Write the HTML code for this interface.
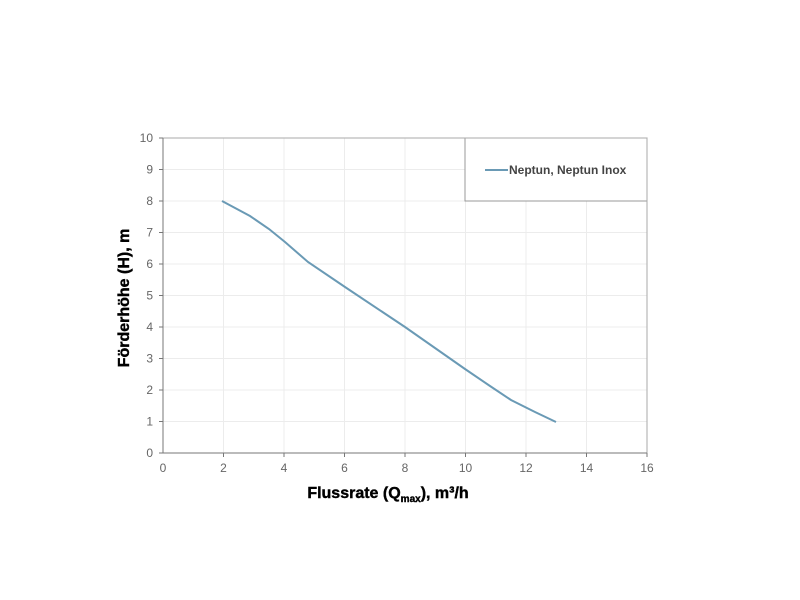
<!DOCTYPE html>
<html><head><style>body{margin:0;background:#fff}svg{display:block}</style></head><body>
<svg width="800" height="600" xmlns="http://www.w3.org/2000/svg" font-family="Liberation Sans, sans-serif">
<g stroke="#ececec" stroke-width="1">
<line x1="223.5" y1="138" x2="223.5" y2="453"/><line x1="284" y1="138" x2="284" y2="453"/><line x1="344.5" y1="138" x2="344.5" y2="453"/><line x1="405" y1="138" x2="405" y2="453"/><line x1="465.5" y1="201" x2="465.5" y2="453"/><line x1="526" y1="201" x2="526" y2="453"/><line x1="586.5" y1="201" x2="586.5" y2="453"/>
<line x1="163" y1="169.5" x2="647" y2="169.5"/><line x1="163" y1="201" x2="647" y2="201"/><line x1="163" y1="232.5" x2="647" y2="232.5"/><line x1="163" y1="264" x2="647" y2="264"/><line x1="163" y1="295.5" x2="647" y2="295.5"/><line x1="163" y1="327" x2="647" y2="327"/><line x1="163" y1="358.5" x2="647" y2="358.5"/><line x1="163" y1="390" x2="647" y2="390"/><line x1="163" y1="421.5" x2="647" y2="421.5"/>
</g>
<rect x="465" y="138" width="182" height="63" fill="#fff" stroke="#999"/>
<line x1="163" y1="138" x2="647" y2="138" stroke="#aaa"/>
<line x1="647" y1="138" x2="647" y2="453" stroke="#aaa"/>
<line x1="163" y1="138" x2="163" y2="453" stroke="#777"/>
<line x1="163" y1="453" x2="647" y2="453" stroke="#777"/>
<g stroke="#777">
<line x1="159" y1="138" x2="163" y2="138"/><line x1="159" y1="169.5" x2="163" y2="169.5"/><line x1="159" y1="201" x2="163" y2="201"/><line x1="159" y1="232.5" x2="163" y2="232.5"/><line x1="159" y1="264" x2="163" y2="264"/><line x1="159" y1="295.5" x2="163" y2="295.5"/><line x1="159" y1="327" x2="163" y2="327"/><line x1="159" y1="358.5" x2="163" y2="358.5"/><line x1="159" y1="390" x2="163" y2="390"/><line x1="159" y1="421.5" x2="163" y2="421.5"/><line x1="159" y1="453" x2="163" y2="453"/>
<line x1="223.5" y1="453" x2="223.5" y2="457"/><line x1="284" y1="453" x2="284" y2="457"/><line x1="344.5" y1="453" x2="344.5" y2="457"/><line x1="405" y1="453" x2="405" y2="457"/><line x1="465.5" y1="453" x2="465.5" y2="457"/><line x1="526" y1="453" x2="526" y2="457"/><line x1="586.5" y1="453" x2="586.5" y2="457"/><line x1="647" y1="453" x2="647" y2="457"/>
</g>
<g font-size="12" fill="#666" text-anchor="end">
<text x="153" y="142">10</text><text x="153" y="173.5">9</text><text x="153" y="205">8</text><text x="153" y="236.5">7</text><text x="153" y="268">6</text><text x="153" y="299.5">5</text><text x="153" y="331">4</text><text x="153" y="362.5">3</text><text x="153" y="394">2</text><text x="153" y="425.5">1</text><text x="153" y="457">0</text>
</g>
<g font-size="12" fill="#666" text-anchor="middle">
<text x="163" y="472">0</text><text x="223.5" y="472">2</text><text x="284" y="472">4</text><text x="344.5" y="472">6</text><text x="405" y="472">8</text><text x="465.5" y="472">10</text><text x="526" y="472">12</text><text x="586.5" y="472">14</text><text x="647" y="472">16</text>
</g>
<polyline fill="none" stroke="#6a9ab5" stroke-width="2" points="222,201 250,216 269,229 285,242 308,262 345,287 405,327 465,369 490,386 511,400 535,412 556,422"/>
<line x1="485" y1="170" x2="508" y2="170" stroke="#6a9ab5" stroke-width="2"/>
<text x="509" y="174" font-size="12" font-weight="bold" fill="#444">Neptun, Neptun Inox</text>
<text x="388" y="498" font-size="16" font-weight="bold" text-anchor="middle" fill="#000" stroke="#000" stroke-width="0.4">Flussrate (Q<tspan font-size="10" dy="4">max</tspan><tspan dy="-4">), m³/h</tspan></text>
<text transform="translate(129,298) rotate(-90)" font-size="16" font-weight="bold" text-anchor="middle" fill="#000" stroke="#000" stroke-width="0.4">Förderhöhe (H), m</text>
</svg>
</body></html>
